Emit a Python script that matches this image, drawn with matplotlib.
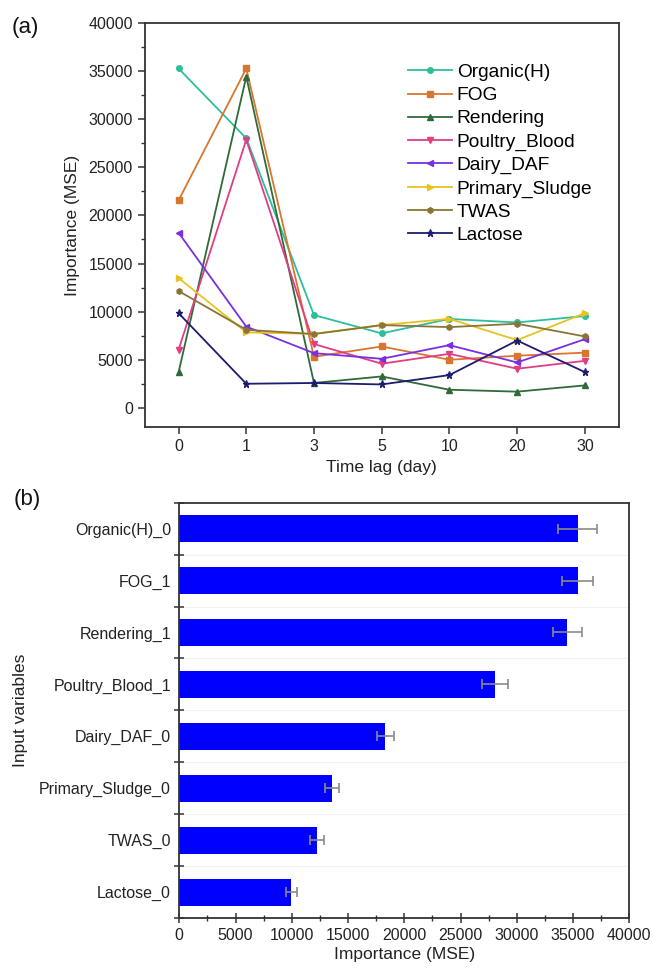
import matplotlib
matplotlib.use("Agg")
import matplotlib.pyplot as plt
from matplotlib.ticker import MultipleLocator, FixedLocator
import numpy as np

plt.rcParams['font.family'] = ['Liberation Sans', 'DejaVu Sans']

# ---------------- data ----------------
lag_labels = ["0", "1", "3", "5", "10", "20", "30"]
series_names = ["Organic(H)", "FOG", "Rendering", "Poultry_Blood", "Dairy_DAF",
                "Primary_Sludge", "TWAS", "Lactose"]
organic_h = [35250, 28000, 9650, 7750, 9250, 8880, 9550]
fog = [21550, 35250, 5320, 6390, 5010, 5430, 5750]
rendering = [3700, 34400, 2600, 3280, 1900, 1700, 2350]
poultry_blood = [6050, 27850, 6640, 4600, 5630, 4080, 4900]
dairy_daf = [18200, 8450, 5700, 5110, 6530, 4730, 7150]
primary_sludge = [13500, 7850, 7700, 8610, 9260, 7050, 9850]
twas = [12150, 8120, 7680, 8610, 8400, 8750, 7430]
lactose = [9850, 2520, 2600, 2450, 3420, 7010, 3730]

bar_labels = ["Organic(H)_0", "FOG_1", "Rendering_1", "Poultry_Blood_1",
              "Dairy_DAF_0", "Primary_Sludge_0", "TWAS_0", "Lactose_0"]
bar_values = [35400, 35400, 34500, 28100, 18300, 13600, 12250, 9950]
bar_errors = [1700, 1400, 1300, 1150, 750, 620, 600, 470]

# ---------------- styles ----------------
colors = ["#2bbf9c", "#d7762f", "#2f6a39", "#e23c82", "#7a2fe0",
          "#e8c21e", "#8a7535", "#1c1c70"]
markers = ["o", "s", "^", "v", "<", ">", "h", "*"]

W, H = 654, 973
fig = plt.figure(figsize=(W / 100, H / 100), dpi=100)

def axrect(l, r, t, b):
    return [l / W, 1 - b / H, (r - l) / W, (b - t) / H]

spine_c = "#333333"
tick_c = "#333333"
fs_tick = 11.5
fs_lab = 12.5

# ---------------- panel (a) ----------------
ax1 = fig.add_axes(axrect(144.7, 618.7, 22.7, 427.3))
all_series = [organic_h, fog, rendering, poultry_blood, dairy_daf,
              primary_sludge, twas, lactose]
xs = np.arange(len(lag_labels))
for name, vals, c, m in zip(series_names, all_series, colors, markers):
    ms = 5.2 if m == "*" else 4.0
    ax1.plot(xs, vals, color=c, marker=m, markersize=ms, linewidth=1.3,
             label=name)
ax1.set_xlim(-0.5, 6.5)
ax1.set_ylim(-2000, 40000)
ax1.set_xticks(xs)
ax1.set_xticklabels(lag_labels)
ax1.yaxis.set_major_locator(MultipleLocator(5000))
ax1.yaxis.set_minor_locator(MultipleLocator(2500))
ax1.tick_params(axis="both", which="major", direction="out", length=5,
                width=1.1, color=tick_c, labelsize=fs_tick, labelcolor="#222222")
ax1.tick_params(axis="y", which="minor", direction="out", length=3,
                width=1.0, color=tick_c)
for s in ax1.spines.values():
    s.set_linewidth(1.3)
    s.set_color(spine_c)
ax1.set_xlabel("Time lag (day)", fontsize=fs_lab, color="#222222", labelpad=4)
ax1.set_ylabel("Importance (MSE)", fontsize=fs_lab, color="#222222", labelpad=6)
leg = ax1.legend(loc="upper left", bbox_to_anchor=(0.539, 0.9175), frameon=False,
                 fontsize=13.8, handlelength=2.3, handletextpad=0.25,
                 labelspacing=0.3, borderaxespad=0)
fig.text(12 / W, 1 - 27 / H, "(a)", fontsize=16, va="center", ha="left",
         color="#111111")

# ---------------- panel (b) ----------------
ax2 = fig.add_axes(axrect(179.3, 629.3, 502.7, 918))
ys = np.arange(len(bar_labels))
ax2.barh(ys, bar_values, height=0.52, color="#0000ff", zorder=2)
ax2.errorbar(bar_values, ys, xerr=bar_errors, fmt="none", ecolor="#8a8a8a",
             elinewidth=1.2, capsize=3.5, capthick=1.2, zorder=3)
ax2.set_ylim(7.5, -0.5)
ax2.set_xlim(0, 40000)
ax2.set_yticks(ys)
ax2.set_yticklabels(bar_labels)
ax2.yaxis.set_minor_locator(FixedLocator(np.arange(-0.5, 8.0, 1.0)))
for yb in np.arange(0.5, 7.5, 1.0):
    ax2.axhline(yb, color="#f2f2f2", linewidth=0.8, zorder=0)
ax2.tick_params(axis="y", which="major", length=0, pad=6,
                labelsize=fs_tick, labelcolor="#222222")
ax2.tick_params(axis="y", which="minor", direction="inout", length=7,
                width=1.1, color=tick_c)
ax2.xaxis.set_major_locator(MultipleLocator(5000))
ax2.xaxis.set_minor_locator(MultipleLocator(2500))
ax2.tick_params(axis="x", which="major", direction="inout", length=7,
                width=1.1, color=tick_c, labelsize=fs_tick, labelcolor="#222222")
ax2.tick_params(axis="x", which="minor", direction="inout", length=4,
                width=1.0, color=tick_c)
for s in ax2.spines.values():
    s.set_linewidth(1.3)
    s.set_color(spine_c)
ax2.set_xlabel("Importance (MSE)", fontsize=fs_lab, color="#222222", labelpad=3)
ax2.set_ylabel("Input variables", fontsize=fs_lab, color="#222222", labelpad=8)
fig.text(14 / W, 1 - 500 / H, "(b)", fontsize=16, va="center", ha="left",
         color="#111111")

fig.savefig("out.png", dpi=100)
